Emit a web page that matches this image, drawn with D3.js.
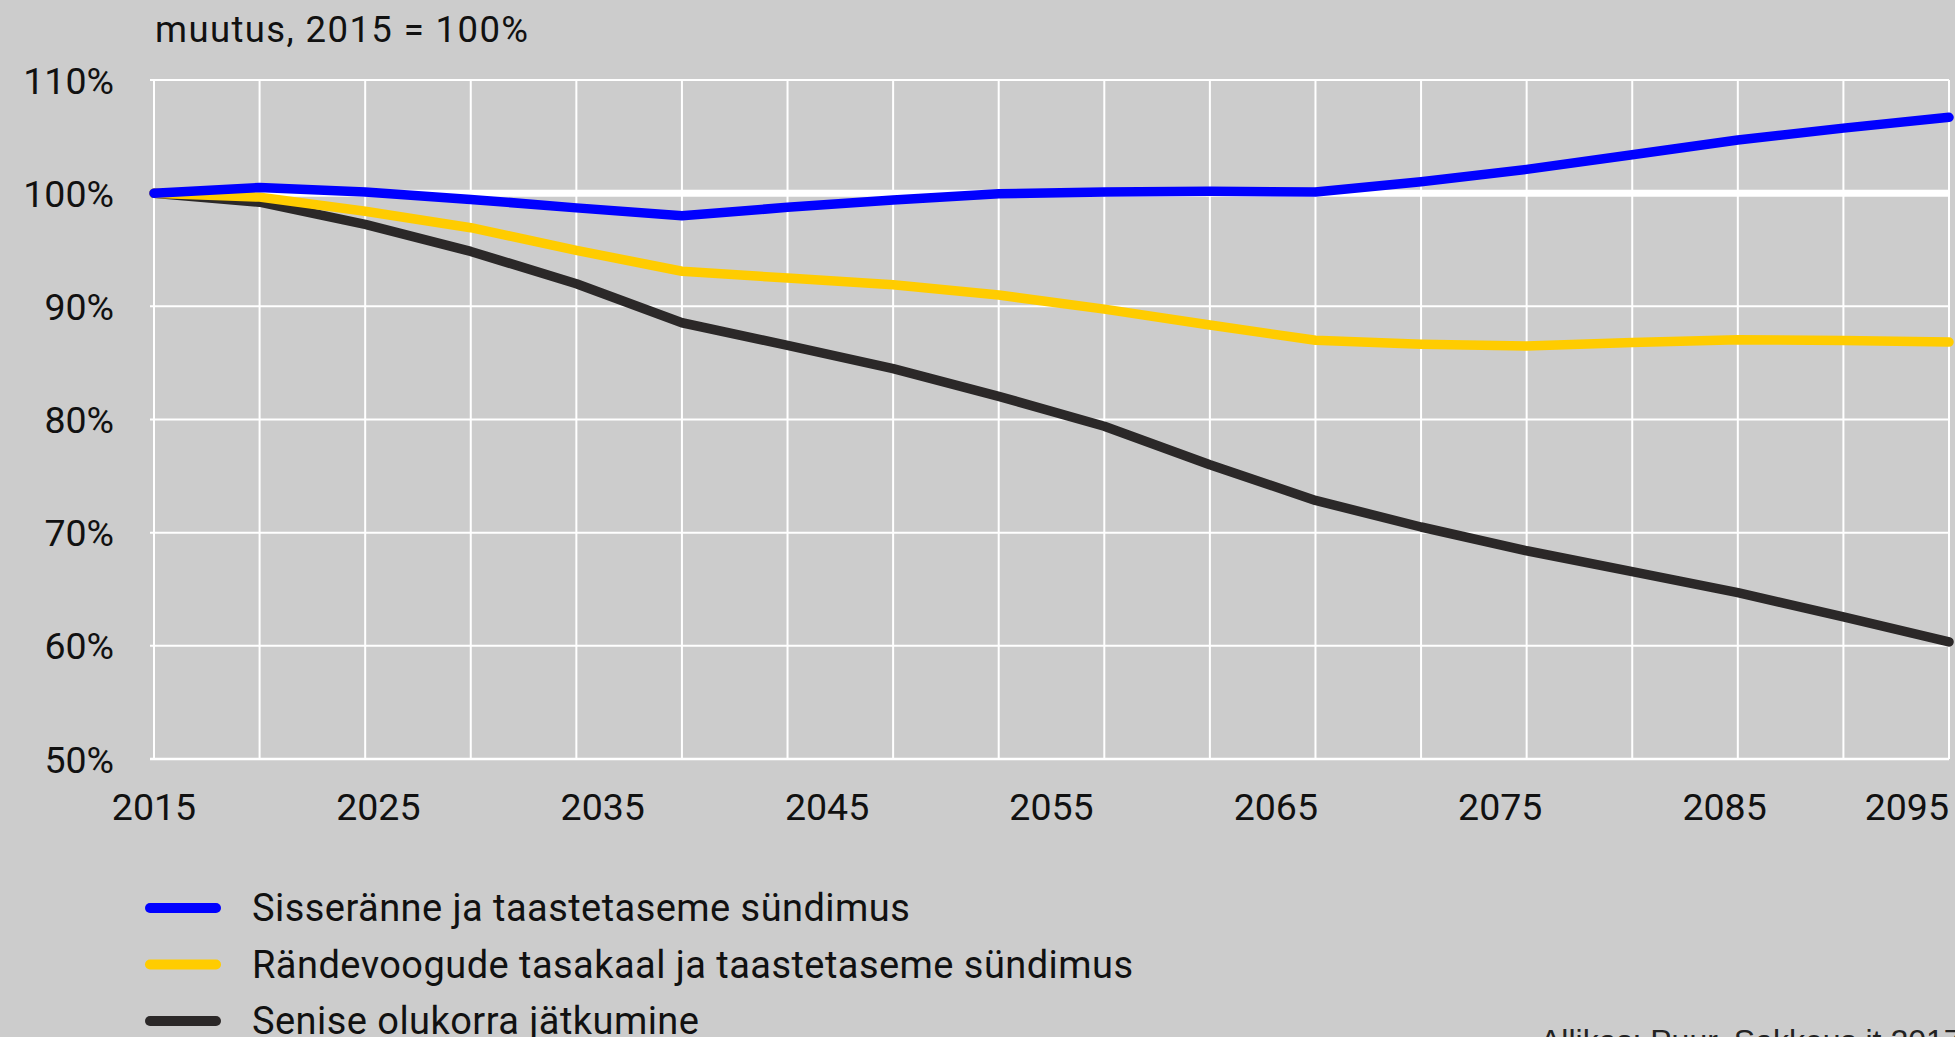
<!DOCTYPE html>
<html>
<head>
<meta charset="utf-8">
<script src="https://cdn.jsdelivr.net/npm/d3@7"></script>
<style>
  html, body { margin: 0; padding: 0; background: #cccccc; overflow: hidden; }
  svg { display: block; }
</style>
</head>
<body>
<svg id="chart" width="1955" height="1037"></svg>
<script>
// ---- data ----
const years = [2015, 2020, 2025, 2030, 2035, 2040, 2045, 2050, 2055, 2060, 2065, 2070, 2075, 2080, 2085, 2090, 2095, 2100];
const seriesNames = [
  "Sisseränne ja taastetaseme sündimus",
  "Rändevoogude tasakaal ja taastetaseme sündimus",
  "Senise olukorra jätkumine"
];
const blueValues   = [100, 100.5, 100.1, 99.45, 98.7, 98.0, 98.75, 99.4, 99.95, 100.1, 100.18, 100.1, 101.0, 102.1, 103.4, 104.7, 105.75, 106.7];
const yellowValues = [100, 99.65, 98.4, 96.95, 94.95, 93.1, 92.5, 91.9, 91.0, 89.75, 88.35, 87.0, 86.65, 86.5, 86.8, 87.05, 86.97, 86.85];
const blackValues  = [100, 99.2, 97.25, 94.85, 92.0, 88.55, 86.55, 84.5, 82.05, 79.4, 76.0, 72.85, 70.5, 68.4, 66.55, 64.7, 62.55, 60.35];
const yTicks = [50, 60, 70, 80, 90, 100, 110];
const xTickLabels = [2015, 2025, 2035, 2045, 2055, 2065, 2075, 2085, 2095];
const titleText = "muutus, 2015 = 100%";
const sourceText = "Allikas: Puur, Sakkeus jt 2017";

// ---- layout ----
const plotLeft = 154, plotRight = 1949, plotTop = 80, plotBottom = 759;
const colors = ["#0000ff", "#ffcc00", "#2b2828"];
const font = "Roboto, 'Noto Sans', sans-serif";

const svg = d3.select("#chart");
svg.append("rect").attr("width", 1955).attr("height", 1037).attr("fill", "#cccccc");

const x = d3.scalePoint().domain(years).range([plotLeft, plotRight]);
const xLabel = d3.scaleLinear().domain([xTickLabels[0], xTickLabels[xTickLabels.length - 1]]).range([plotLeft, plotRight]);
const y = d3.scaleLinear().domain([50, 110]).range([plotBottom, plotTop]);

// vertical grid
svg.append("g").selectAll("line").data(years).join("line")
  .attr("x1", d => x(d)).attr("x2", d => x(d))
  .attr("y1", plotTop).attr("y2", plotBottom)
  .attr("stroke", "#ffffff").attr("stroke-width", 2);

// horizontal grid
svg.append("g").selectAll("line").data(yTicks).join("line")
  .attr("x1", plotLeft - 4).attr("x2", plotRight)
  .attr("y1", d => y(d)).attr("y2", d => y(d))
  .attr("stroke", "#ffffff")
  .attr("stroke-width", d => d === 100 ? 7 : (d === 50 ? 2.5 : 2));

// y labels
svg.append("g").selectAll("text").data(yTicks).join("text")
  .attr("x", 114).attr("y", d => y(d))
  .attr("dy", "0.36em")
  .attr("text-anchor", "end")
  .attr("font-family", font).attr("font-size", 37.5).attr("fill", "#111")
  .text(d => d + "%");

// x labels
svg.append("g").selectAll("text").data(xTickLabels).join("text")
  .attr("x", (d, i) => i === xTickLabels.length - 1 ? plotRight : xLabel(d))
  .attr("y", 820)
  .attr("text-anchor", (d, i) => i === xTickLabels.length - 1 ? "end" : "middle")
  .attr("font-family", font).attr("font-size", 37.5).attr("fill", "#111")
  .text(d => d);

// title
svg.append("text")
  .attr("x", 155).attr("y", 42)
  .attr("font-family", font).attr("font-size", 36.5).attr("fill", "#111")
  .attr("letter-spacing", "1.4px")
  .text(titleText);

// lines
const series = [blueValues, yellowValues, blackValues];
const line = d3.line().x((d, i) => x(years[i])).y(d => y(d));
const order = [2, 1, 0];
svg.append("g").selectAll("path").data(order).join("path")
  .attr("d", k => line(series[k]))
  .attr("fill", "none")
  .attr("stroke", k => colors[k])
  .attr("stroke-width", 9.5)
  .attr("stroke-linecap", "round")
  .attr("stroke-linejoin", "round");

// legend
const legendY = [908, 964.5, 1021];
const lg = svg.append("g");
lg.selectAll("line").data(seriesNames).join("line")
  .attr("x1", 150).attr("x2", 216)
  .attr("y1", (d, i) => legendY[i]).attr("y2", (d, i) => legendY[i])
  .attr("stroke", (d, i) => colors[i])
  .attr("stroke-width", 10)
  .attr("stroke-linecap", "round");
lg.selectAll("text").data(seriesNames).join("text")
  .attr("x", 252).attr("y", (d, i) => legendY[i] + 13)
  .attr("font-family", font).attr("font-size", 38).attr("fill", "#111")
  .attr("letter-spacing", "0.45px")
  .text(d => d);

// source
svg.append("text")
  .attr("x", 1540).attr("y", 1052)
  .attr("font-family", "'Liberation Sans', Arial, sans-serif").attr("font-size", 32).attr("fill", "#222")
  .text(sourceText);
</script>
</body>
</html>
